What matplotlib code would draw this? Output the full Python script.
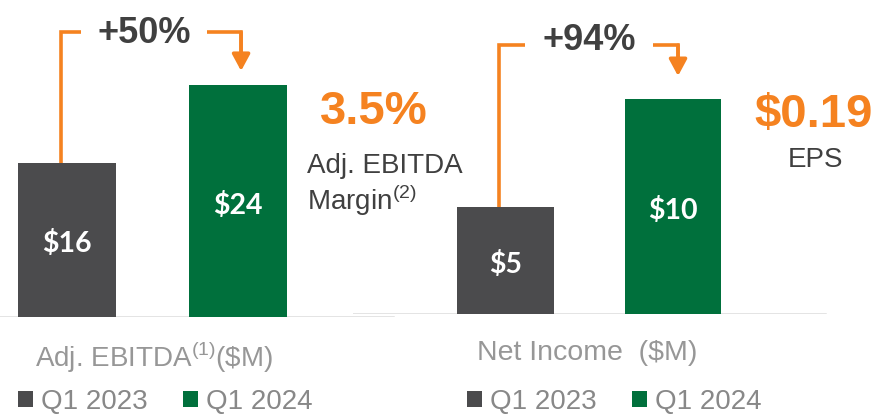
import matplotlib.pyplot as plt

plt.rcParams['font.family'] = ['Liberation Sans', 'DejaVu Sans']
plt.rcParams['mathtext.fontset'] = 'custom'
plt.rcParams['mathtext.rm'] = 'Liberation Sans'

W, H = 876, 418

periods = ['Q1 2023', 'Q1 2024']
ebitda = [16, 24]
net_income = [5, 10]
ebitda_labels = ['$16', '$24']
ni_labels = ['$5', '$10']
ebitda_growth = '+50%'
ni_growth = '+94%'
margin = '3.5%'
eps = '$0.19'

gray = '#4b4b4d'
green = '#00703c'
orange = '#f58220'
dark = '#404040'
light = '#979797'
legend_gray = '#888888'


def box(x0, x1, ytop, ybot):
    # pixel box -> figure fraction rect
    return [x0 / W, 1 - ybot / H, (x1 - x0) / W, (ybot - ytop) / H]


def fx(px):
    return px / W


def fy(py):
    return 1 - py / H


fig = plt.figure(figsize=(W / 100, H / 100), dpi=100)

ax1 = fig.add_axes(box(0, 400, 0, 317))
ax1.set_xlim(-67 / 171, (400 - 67) / 171)
ax1.set_ylim(0, 317 / 9.65)

ax2 = fig.add_axes(box(353, 876, 0, 314))
ax2.set_xlim((353 - 505.5) / 167.5, (876 - 505.5) / 167.5)
ax2.set_ylim(0, 314 / 21.5)

for ax, vals, labels in [(ax1, ebitda, ebitda_labels), (ax2, net_income, ni_labels)]:
    ax.axis('off')
    ax.bar(0, vals[0], 0.575, color=gray, label=periods[0], zorder=3)
    ax.bar(1, vals[1], 0.575, color=green, label=periods[1], zorder=3)
    for i, (v, lab) in enumerate(zip(vals, labels)):
        ax.annotate(lab, (i, v / 2), xytext=(0, -3), textcoords='offset points',
                    ha='center', va='center', color='white', fontsize=20.5,
                    fontweight='bold', family='Lato', zorder=4)

ax1.axhline(0, 0, 393 / 400, color='#dcdcdc', lw=1.8, zorder=2)
ax2.axhline(0, 0, (825 - 353) / (876 - 353), color='#dcdcdc', lw=1.8, zorder=2)


def growth_bracket(ax, vals, x_left, y_br, gap, x_right, y_tip, label, label_y):
    ax.plot([x_left, x_left, gap[0]], [vals[0], y_br, y_br], color=orange,
            lw=2.6, solid_joinstyle='miter', solid_capstyle='butt', clip_on=False)
    ax.plot([gap[1], x_right, x_right], [y_br, y_br, (y_br + y_tip) / 2],
            color=orange, lw=2.6, solid_joinstyle='miter', solid_capstyle='butt',
            clip_on=False)
    ax.annotate('', xy=(x_right, y_tip), xytext=(x_right, y_br),
                arrowprops=dict(arrowstyle='-|>,head_length=0.5,head_width=0.27',
                                color=orange, lw=2.6, shrinkA=0, shrinkB=0,
                                mutation_scale=20))
    ax.text((gap[0] + gap[1]) / 2, label_y, label, ha='center', va='center',
            fontsize=26, fontweight='bold', color=dark)


growth_bracket(ax1, ebitda, -0.035, 29.5, (0.082, 0.819), 1.018, 25.5,
               ebitda_growth, 29.4)
growth_bracket(ax2, net_income, -0.039, 12.5, (0.116, 0.881), 1.03, 11.07,
               ni_growth, 12.74)

# side call-outs
fig.text(fx(374), fy(112), margin, ha='center', va='center', fontsize=34,
         fontweight='bold', color=orange)
fig.text(fx(307), fy(166), 'Adj. EBITDA', ha='left', va='center',
         fontsize=20, color=dark)
fig.text(fx(307), fy(200), r'Margin$^{\mathrm{(2)}}$', ha='left', va='center',
         fontsize=20, color=dark)
fig.text(fx(754), fy(115), eps, ha='left', va='center', fontsize=34,
         fontweight='bold', color=orange)
fig.text(fx(816), fy(160), 'EPS', ha='center', va='center', fontsize=20,
         color=dark)

# category labels
fig.text(fx(35), fy(357), r'Adj. EBITDA$^{\mathrm{(1)}}$(\$M)', ha='left',
         va='center', fontsize=20, color=light)
fig.text(fx(477), fy(353), 'Net Income  ($M)', ha='left', va='center',
         fontsize=20.5, color=light)

for ax, x0 in [(ax1, 18), (ax2, 467)]:
    ax.legend(loc='center left', bbox_to_anchor=(fx(x0), fy(402)),
              bbox_transform=fig.transFigure, ncol=2, frameon=False,
              fontsize=20, handlelength=0.54, handleheight=0.54,
              handletextpad=0.29, columnspacing=1.26, borderpad=0,
              borderaxespad=0, labelcolor=legend_gray)

fig.savefig('out.png', dpi=100)
